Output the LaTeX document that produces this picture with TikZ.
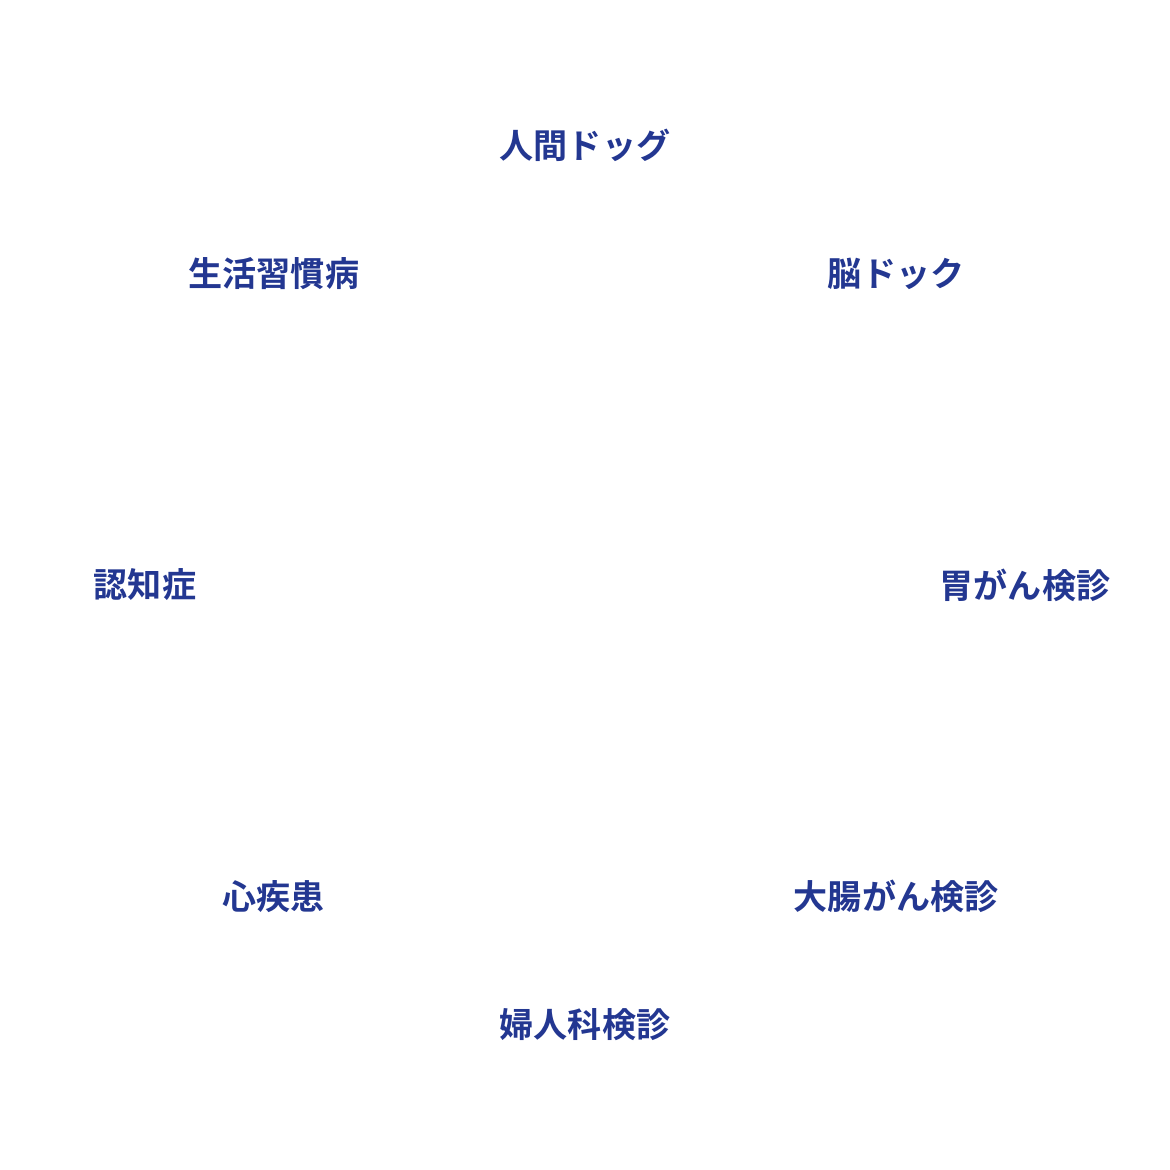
\documentclass[tikz,border=0pt]{standalone}
\usepackage{fontspec}
\newfontfamily\cjk{Noto Sans CJK JP Bold}
\usetikzlibrary{positioning,calc}
\definecolor{checkblue}{RGB}{35,55,145}

\begin{document}
\begin{tikzpicture}[every node/.style={font=\cjk\fontsize{9.7pt}{11pt}\selectfont, text=checkblue, inner sep=0pt}]
                % Canvas
                \useasboundingbox (0,0) rectangle (11.7,11.7);
                \coordinate (centre) at (5.85,5.85);
                
                % Checkup items round the circle
                \node (dock)    at ($(centre)+(90:4.4)$)   {人間ドッグ};
                \node (brain)   at ($(centre)+(45:4.4)$)   {脳ドック};
                \node (stomach) at ($(centre)+(0:4.4)$)    {胃がん検診};
                \node (colon)   at ($(centre)+(-45:4.4)$)  {大腸がん検診};
                \node (gyn)     at ($(centre)+(-90:4.4)$)  {婦人科検診};
                \node (heart)   at ($(centre)+(-135:4.4)$) {心疾患};
                \node (dementia) at ($(centre)+(180:4.4)$) {認知症};
                \node (lifestyle) at ($(centre)+(135:4.4)$) {生活習慣病};
            \end{tikzpicture}
\end{document}
